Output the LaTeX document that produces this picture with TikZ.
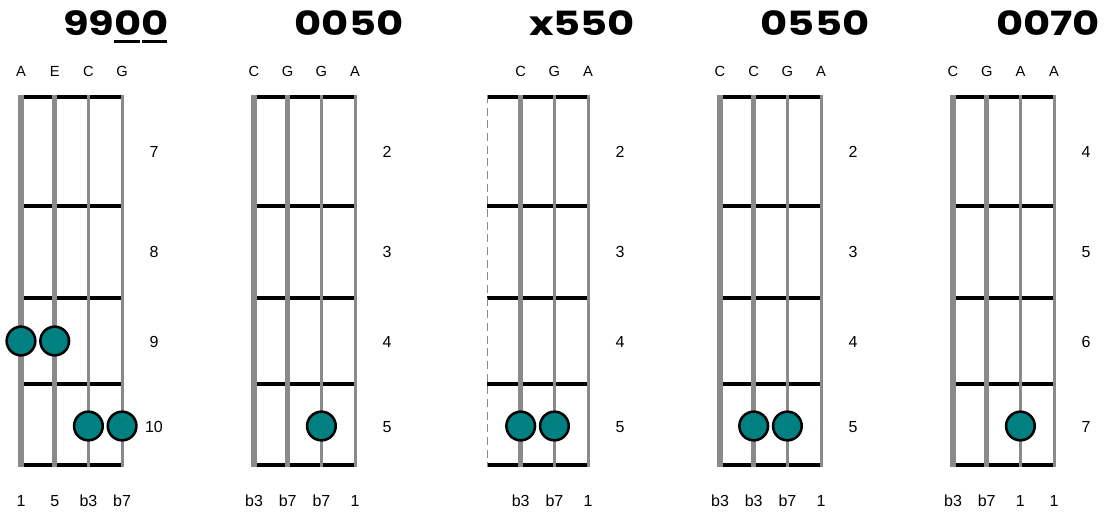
\documentclass[tikz,border=0pt]{standalone}
\usepackage{fontspec}
\setmainfont{Liberation Sans}
\newfontfamily\titlefont[FakeStretch=1.25]{Poppins}
\usetikzlibrary{calc}

\definecolor{strgray}{HTML}{8A8A8A}
\definecolor{dotteal}{HTML}{008080}

% underline a single digit of a title
\newcommand{\fretul}[1]{\setbox0\hbox{#1}\rlap{\rule[-5.5pt]{\dimexpr\wd0-1.5pt\relax}{2.4pt}}\box0}

\tikzset{
  fretline/.style={draw=black, line width=2.6pt},
  strg/.style={draw=strgray, line width=#1},
  strone/.style={strg=4.1pt},
  muted/.style={draw=strgray, line width=0.6pt, dash pattern=on 6pt off 3.5pt},
  dot/.style={circle, draw=black, line width=1.9pt, fill=dotteal, minimum size=21.5pt},
  lbl/.style={font=\fontsize{12}{14}\selectfont, anchor=base},
  sname/.style={font=\fontsize{11}{13}\selectfont, anchor=base},
  title/.style={font=\titlefont\bfseries\fontsize{25}{30}\selectfont, anchor=base},
}

\begin{document}
\begin{tikzpicture}[x=0.75pt,y=-0.75pt,inner sep=0pt]
\useasboundingbox (0,0) rectangle (1106,514);
\def\u{33.7}
\def\w{233}

% titles
\node[title] (t0) at (116,36) {99\fretul{0}\fretul{0}};
\node[title] (t1) at (116+\w,36) {0050};
\node[title] (t2) at (116+2*\w,36) {x550};
\node[title] (t3) at (116+3*\w,36) {0550};
\node[title] (t4) at (116+4*\w,36) {0070};

% frets and strings
\foreach \d/\first in {0/strone,1/strone,2/muted,3/strone,4/strone} {
  \foreach \y in {97,206,298,384,465}
    \draw[fretline] (21+\d*\w,\y) -- (21+\d*\w+3*\u,\y);
  \draw[\first] (21+\d*\w,95) -- (21+\d*\w,467);
  \foreach \s/\lw in {1/3.4pt,2/2.7pt,3/2.2pt}
    \draw[strg=\lw] (21+\d*\w+\s*\u,95) -- (21+\d*\w+\s*\u,467);
}

% fret numbers
\foreach \d/\fa/\fb/\fc/\fd in {0/7/8/9/10,1/2/3/4/5,2/2/3/4/5,3/2/3/4/5,4/4/5/6/7} {
  \node[lbl] (f\d a) at (154+\d*\w,157) {\fa};
  \node[lbl] (f\d b) at (154+\d*\w,257) {\fb};
  \node[lbl] (f\d c) at (154+\d*\w,347) {\fc};
  \node[lbl] (f\d d) at (154+\d*\w,432) {\fd};
}

% string names and intervals
\foreach \d/\names/\degs in {0/{A,E,C,G}/{1,5,b3,b7},1/{C,G,G,A}/{b3,b7,b7,1},
    2/{,C,G,A}/{,b3,b7,1},3/{C,C,G,A}/{b3,b3,b7,1},4/{C,G,A,A}/{b3,b7,1,1}} {
  \foreach \n [count=\s from 0] in \names
    \node[sname] (n\d\s) at (21+\d*\w+\s*\u,76) {\n};
  \foreach \g [count=\s from 0] in \degs
    \node[lbl] (g\d\s) at (21+\d*\w+\s*\u,506) {\g};
}

% fingered notes
\foreach \d/\s/\y in {0/0/341,0/1/341,0/2/426,0/3/426,1/2/426,
    2/1/426,2/2/426,3/1/426,3/2/426,4/2/426}
  \node[dot] (p\d\s) at (21+\d*\w+\s*\u,\y) {};
\end{tikzpicture}
\end{document}
